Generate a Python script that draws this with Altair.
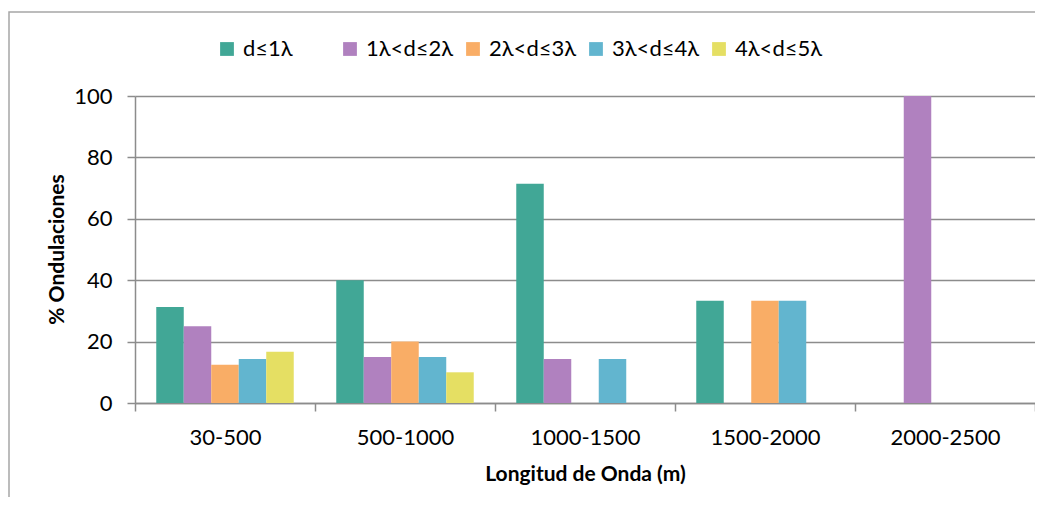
import altair as alt
import pandas as pd

categories = ["30-500", "500-1000", "1000-1500", "1500-2000", "2000-2500"]
series = ["d≤1λ", "1λ<d≤2λ", "2λ<d≤3λ", "3λ<d≤4λ", "4λ<d≤5λ"]
colors = ["#41A796", "#B081BF", "#F9AD66", "#62B5CF", "#E5DF63"]

v_d1 = [31.3, 40.0, 71.4, 33.3, 0.0]
v_d2 = [25.0, 15.0, 14.3, 0.0, 100.0]
v_d3 = [12.5, 20.0, 0.0, 33.3, 0.0]
v_d4 = [14.3, 15.0, 14.3, 33.3, 0.0]
v_d5 = [16.7, 10.0, 0.0, 0.0, 0.0]

rows = []
for s, vals in zip(series, [v_d1, v_d2, v_d3, v_d4, v_d5]):
    for c, v in zip(categories, vals):
        rows.append({"cat": c, "serie": s, "valor": v})
df = pd.DataFrame(rows)

FONT = "Lato"
GRAY = "#8c8c8c"

bars = alt.Chart(df).mark_bar().encode(
    x=alt.X("cat:N", sort=categories,
            scale=alt.Scale(paddingInner=0, paddingOuter=0),
            axis=alt.Axis(title="Longitud de Onda (m)", labelAngle=0,
                          tickBand="extent", tickSize=8, tickColor=GRAY,
                          tickWidth=1.5, domainColor=GRAY, domainWidth=1.5,
                          labelFontSize=22, labelPadding=16, labelColor="#000",
                          labelFont=FONT, titleFont=FONT, titleFontSize=21,
                          titleFontWeight="bold", titleColor="#000",
                          titleX=450, titleY=71, titleBaseline="middle")),
    xOffset=alt.XOffset("serie:N", sort=series,
                        scale=alt.Scale(paddingInner=0, paddingOuter=0.773)),
    y=alt.Y("valor:Q", scale=alt.Scale(domain=[0, 100], nice=False),
            axis=alt.Axis(title="% Ondulaciones", values=[0, 20, 40, 60, 80, 100],
                          tickSize=8, tickColor=GRAY, tickWidth=1.5,
                          domainColor=GRAY, domainWidth=1.5,
                          gridColor=GRAY, gridWidth=1.5,
                          labelFontSize=22, labelPadding=15, labelColor="#000",
                          labelFont=FONT, titleFont=FONT, titleFontSize=21,
                          titleFontWeight="bold", titleColor="#000",
                          titleX=-78, titleY=153, titleBaseline="middle",
                          titleAngle=270)),
    color=alt.Color("serie:N", sort=series,
                    scale=alt.Scale(domain=series, range=colors),
                    legend=alt.Legend(title=None, orient="none", legendX=81, legendY=-58,
                                      direction="horizontal", columns=5,
                                      symbolType="square", symbolSize=190,
                                      symbolStrokeWidth=0, labelFontSize=22,
                                      labelFont=FONT, labelColor="#000",
                                      labelOffset=5, gridAlign="all",
                                      columnPadding=8)),
)

border = alt.Chart(pd.DataFrame({"a": [0]})).mark_rect(
    fill=None, stroke="#a6a6a6", strokeWidth=1.5
).encode(x=alt.value(-126), x2=alt.value(1100), y=alt.value(-84), y2=alt.value(600))

chart = alt.layer(border, bars).properties(
    width=900, height=307,
    padding={"left": 127, "top": 88, "right": 0, "bottom": 94},
    autosize=alt.AutoSizeParams(type="none"),
).configure_view(stroke=None)

chart.save("out.html", embed_options={"renderer": "svg", "actions": False})
